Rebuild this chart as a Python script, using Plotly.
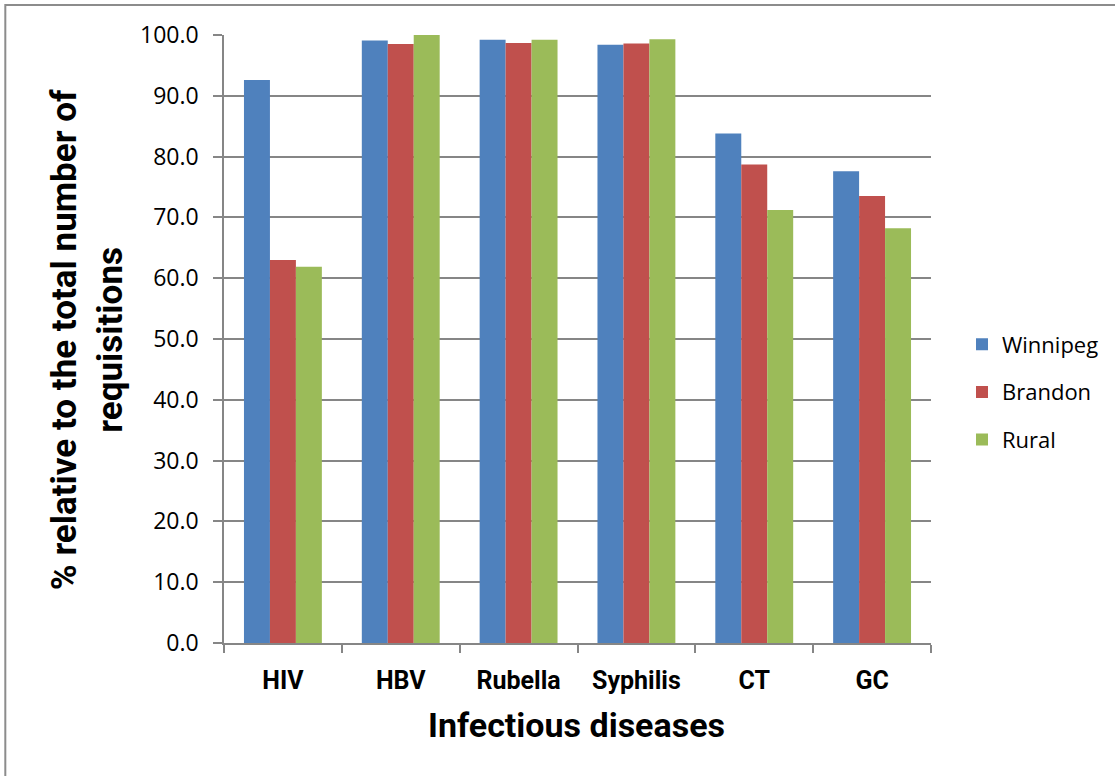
import plotly.graph_objects as go

# Share of requisitions (%) by infectious disease and region
diseases = ["HIV", "HBV", "Rubella", "Syphilis", "CT", "GC"]
winnipeg = [92.6, 99.1, 99.2, 98.4, 83.8, 77.6]
brandon = [63.0, 98.5, 98.7, 98.6, 78.7, 73.5]
rural = [61.9, 100.0, 99.2, 99.3, 71.2, 68.2]

series = [
    ("Winnipeg", winnipeg, "#4F81BD"),
    ("Brandon", brandon, "#C0504D"),
    ("Rural", rural, "#9BBB59"),
]

W, H = 1115, 776
L, R, T, B = 224, 183, 35, 133
pw, ph = W - L - R, H - T - B

fig = go.Figure()
for name, vals, col in series:
    fig.add_trace(go.Bar(
        x=diseases, y=vals, name=name, legendgroup=name,
        marker=dict(color=col, line=dict(width=0)),
    ))

grid = "#868686"
fig.update_layout(
    width=W, height=H,
    margin=dict(l=L, r=R, t=T, b=B, pad=0),
    paper_bgcolor="white", plot_bgcolor="white",
    barmode="group", bargap=0.339, bargroupgap=0,
    font=dict(family="Open Sans", color="black"),
    legend=dict(
        x=(962 - L) / pw, y=(H - B - 392) / ph,
        xanchor="left", yanchor="middle",
        font=dict(family="Open Sans", size=22, color="black"),
        tracegroupgap=16, bgcolor="rgba(0,0,0,0)",
    ),
    showlegend=True,
)

fig.update_xaxes(
    type="category", showline=True, linecolor=grid, linewidth=1.5,
    ticks="outside", tickson="boundaries", ticklen=8, tickcolor=grid, tickwidth=1.5,
    tickfont=dict(family="Roboto", size=25, color="black", weight="bold"),
    ticklabelstandoff=14,
    showgrid=False,
)
fig.update_yaxes(
    range=[0, 100], dtick=10, tickformat=".1f",
    showline=True, linecolor=grid, linewidth=1.5,
    ticks="outside", ticklen=9, tickcolor=grid, tickwidth=1.5,
    showgrid=True, gridcolor=grid, gridwidth=1.5,
    tickfont=dict(family="Open Sans", size=23, color="black"),
    ticklabelstandoff=10,
    zeroline=False,
)

# Axis titles
fig.add_annotation(
    text="Infectious diseases", xref="paper", yref="paper",
    x=(577 - L) / pw, y=(H - B - 725) / ph, xanchor="center", yanchor="middle",
    showarrow=False, font=dict(family="Roboto", size=34, color="black", weight="bold"),
)
fig.add_annotation(
    text="% relative to the total number of<br>requisitions", xref="paper", yref="paper",
    x=(87 - L) / pw, y=(H - B - 340) / ph, xanchor="center", yanchor="middle", textangle=-90,
    showarrow=False, font=dict(family="Roboto", size=35, color="black", weight="bold"),
)

# Chart frame
fig.add_shape(
    type="rect", xref="paper", yref="paper",
    x0=(5 - L) / pw, x1=(W + 10 - L) / pw,
    y0=(H - B - (H + 10)) / ph, y1=(H - B - 5) / ph,
    line=dict(color="#8C8C8C", width=2), fillcolor="rgba(0,0,0,0)", layer="below",
)

fig.write_html("out.html")
